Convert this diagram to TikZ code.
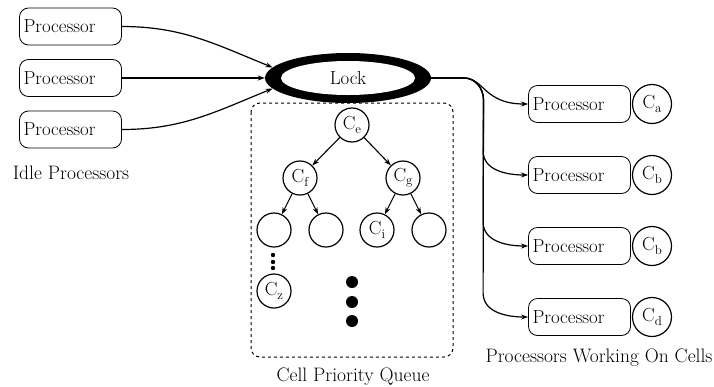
\documentclass[tikz,border=0pt]{standalone}
\usetikzlibrary{arrows.meta,shapes.geometric}
\newcommand\csub[1]{C\raisebox{-0.4ex}{\fontsize{13}{13}\selectfont #1}}
\tikzset{
  every node/.style={font=\rmfamily\fontsize{18.9}{22}\selectfont},
  proc/.style={draw, line width=0.8pt, rounded corners=9pt, minimum height=37pt,
    text width=94pt, inner xsep=4pt, align=left},
  cell/.style={draw, circle, line width=1.2pt, minimum size=34pt, inner sep=0pt},
  wcell/.style={draw, circle, line width=1.2pt, minimum size=39pt, inner sep=0pt},
  arr/.style={line width=1.2pt, -{Stealth[length=7pt,width=5pt]}},
  tarr/.style={line width=1.1pt, -{Stealth[length=7pt,width=5pt]}},
  lbl/.style={font=\rmfamily\fontsize{19.5}{22}\selectfont}
}
\begin{document}
\begin{tikzpicture}[x=1pt,y=-1pt]
\useasboundingbox (0,0) rectangle (714,386);

% idle processors
\node[proc] (i1) at (70.5,26.5) {Processor};
\node[proc] (i2) at (70.5,78) {Processor};
\node[proc] (i3) at (70.5,129.5) {Processor};
\node[lbl] (idle) at (71,173) {Idle Processors};

% lock ring: black outer ellipse, white inner ellipse
\node[ellipse, fill=black, minimum width=166pt, minimum height=50pt, inner sep=0pt] (lock) at (348,78) {};
\fill[white] (lock.center) ellipse [x radius=67, y radius=17];
\node (locktext) at (lock.center) {Lock};

\draw[arr] (i1.east) to[out=0,in=158] (lock.172);
\draw[arr] (i2.east) -- (lock.west);
\draw[arr] (i3.east) to[out=0,in=-158] (lock.188);

% priority queue
\draw[dashed, line width=1pt, rounded corners=9pt] (251,103) rectangle (453,357);
\node[lbl] (pq) at (353,377) {Cell Priority Queue};

\node[cell] (ce) at (352,125) {\csub{e}};
\node[cell] (cf) at (300,178) {\csub{f}};
\node[cell] (cg) at (403,178) {\csub{g}};
\node[cell] (n1) at (274,230) {};
\node[cell] (n2) at (326,230) {};
\node[cell] (ci) at (377,230) {\csub{i}};
\node[cell] (n4) at (429,230) {};
\node[cell] (cz) at (274,291) {\csub{z}};

\draw[tarr] (ce) -- (cf);
\draw[tarr] (ce) -- (cg);
\draw[tarr] (cf) -- (n1);
\draw[tarr] (cf) -- (n2);
\draw[tarr] (cg) -- (ci);
\draw[tarr] (cg) -- (n4);

\foreach \y in {255,262,268} \fill (273,\y) circle (2.2pt);
\foreach \y in {282,302,321} \fill (352,\y) circle (6pt);

% working processors
\node[proc] (w1) at (579.5,104) {Processor};
\node[proc] (w2) at (579.5,175) {Processor};
\node[proc] (w3) at (579.5,246) {Processor};
\node[proc] (w4) at (579.5,317) {Processor};
\node[wcell] (c1) at (652,104) {\csub{a}};
\node[wcell] (c2) at (652,175) {\csub{b}};
\node[wcell] (c3) at (652,246) {\csub{b}};
\node[wcell] (c4) at (652,317) {\csub{d}};
\node[lbl] (work) at (599,358) {Processors Working On Cells};

% bus from the lock down to each working processor
\draw[arr] (lock.east) -- (464,78) .. controls (484,78) and (484,104) .. (w1.west);
\foreach \w in {w2,w3,w4}
  \draw[arr] (lock.east) -- (464,78) to[out=0,in=90] (483.5,100)
    -- ([xshift=-45pt,yshift=24pt]\w.west) to[out=-90,in=180] (\w.west);
\end{tikzpicture}
\end{document}
